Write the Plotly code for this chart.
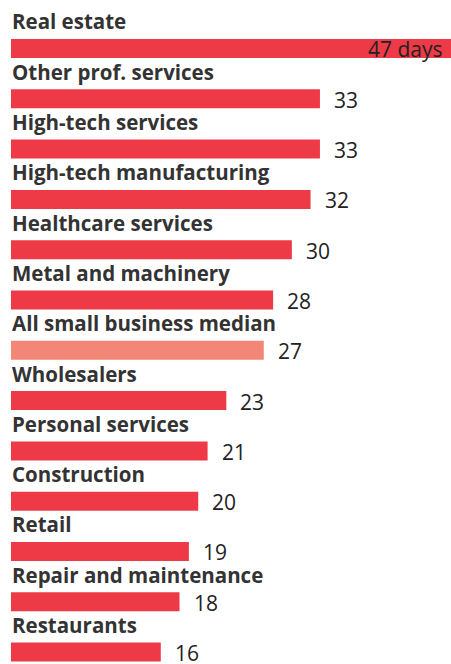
import plotly.graph_objects as go

categories = [
    "Real estate", "Other prof. services", "High-tech services",
    "High-tech manufacturing", "Healthcare services", "Metal and machinery",
    "All small business median", "Wholesalers", "Personal services",
    "Construction", "Retail", "Repair and maintenance", "Restaurants",
]
days = [47, 33, 33, 32, 30, 28, 27, 23, 21, 20, 19, 18, 16]
highlight = "All small business median"

RED = "#ED3A46"
SALMON = "#F28677"
TEXT = "#333333"

pos = list(range(len(categories)))
colors = [SALMON if c == highlight else RED for c in categories]

fig = go.Figure(go.Bar(
    x=days, y=pos, orientation="h", width=0.378,
    marker=dict(color=colors, line=dict(width=0)),
    hoverinfo="skip",
))

annotations = []
for i, (cat, v) in enumerate(zip(categories, days)):
    # category name above each bar
    annotations.append(dict(
        x=0, y=i, xref="x", yref="y", text=f"<b>{cat}</b>",
        xanchor="left", yanchor="middle", yshift=27, xshift=-1,
        showarrow=False, font=dict(family="Open Sans", size=20.5, color=TEXT),
    ))
    # value at the end of the bar
    if i == 0:
        annotations.append(dict(
            x=v, y=i, xref="x", yref="y", text=f"{v} days",
            xanchor="right", yanchor="middle", xshift=-6, yshift=-1,
            showarrow=False, font=dict(family="Open Sans", size=21, color="#222222"),
        ))
    else:
        annotations.append(dict(
            x=v, y=i, xref="x", yref="y", text=str(v),
            xanchor="left", yanchor="middle", xshift=12, yshift=-1,
            showarrow=False, font=dict(family="Open Sans", size=21, color="#222222"),
        ))

fig.update_layout(
    width=451, height=664,
    margin=dict(l=0, r=0, t=0, b=0),
    paper_bgcolor="white", plot_bgcolor="white",
    showlegend=False,
    annotations=annotations,
    xaxis=dict(range=[-1.175, 47], visible=False, fixedrange=True),
    yaxis=dict(range=[12.237, -0.964], visible=False, fixedrange=True),
)

fig.write_html("out.html")
